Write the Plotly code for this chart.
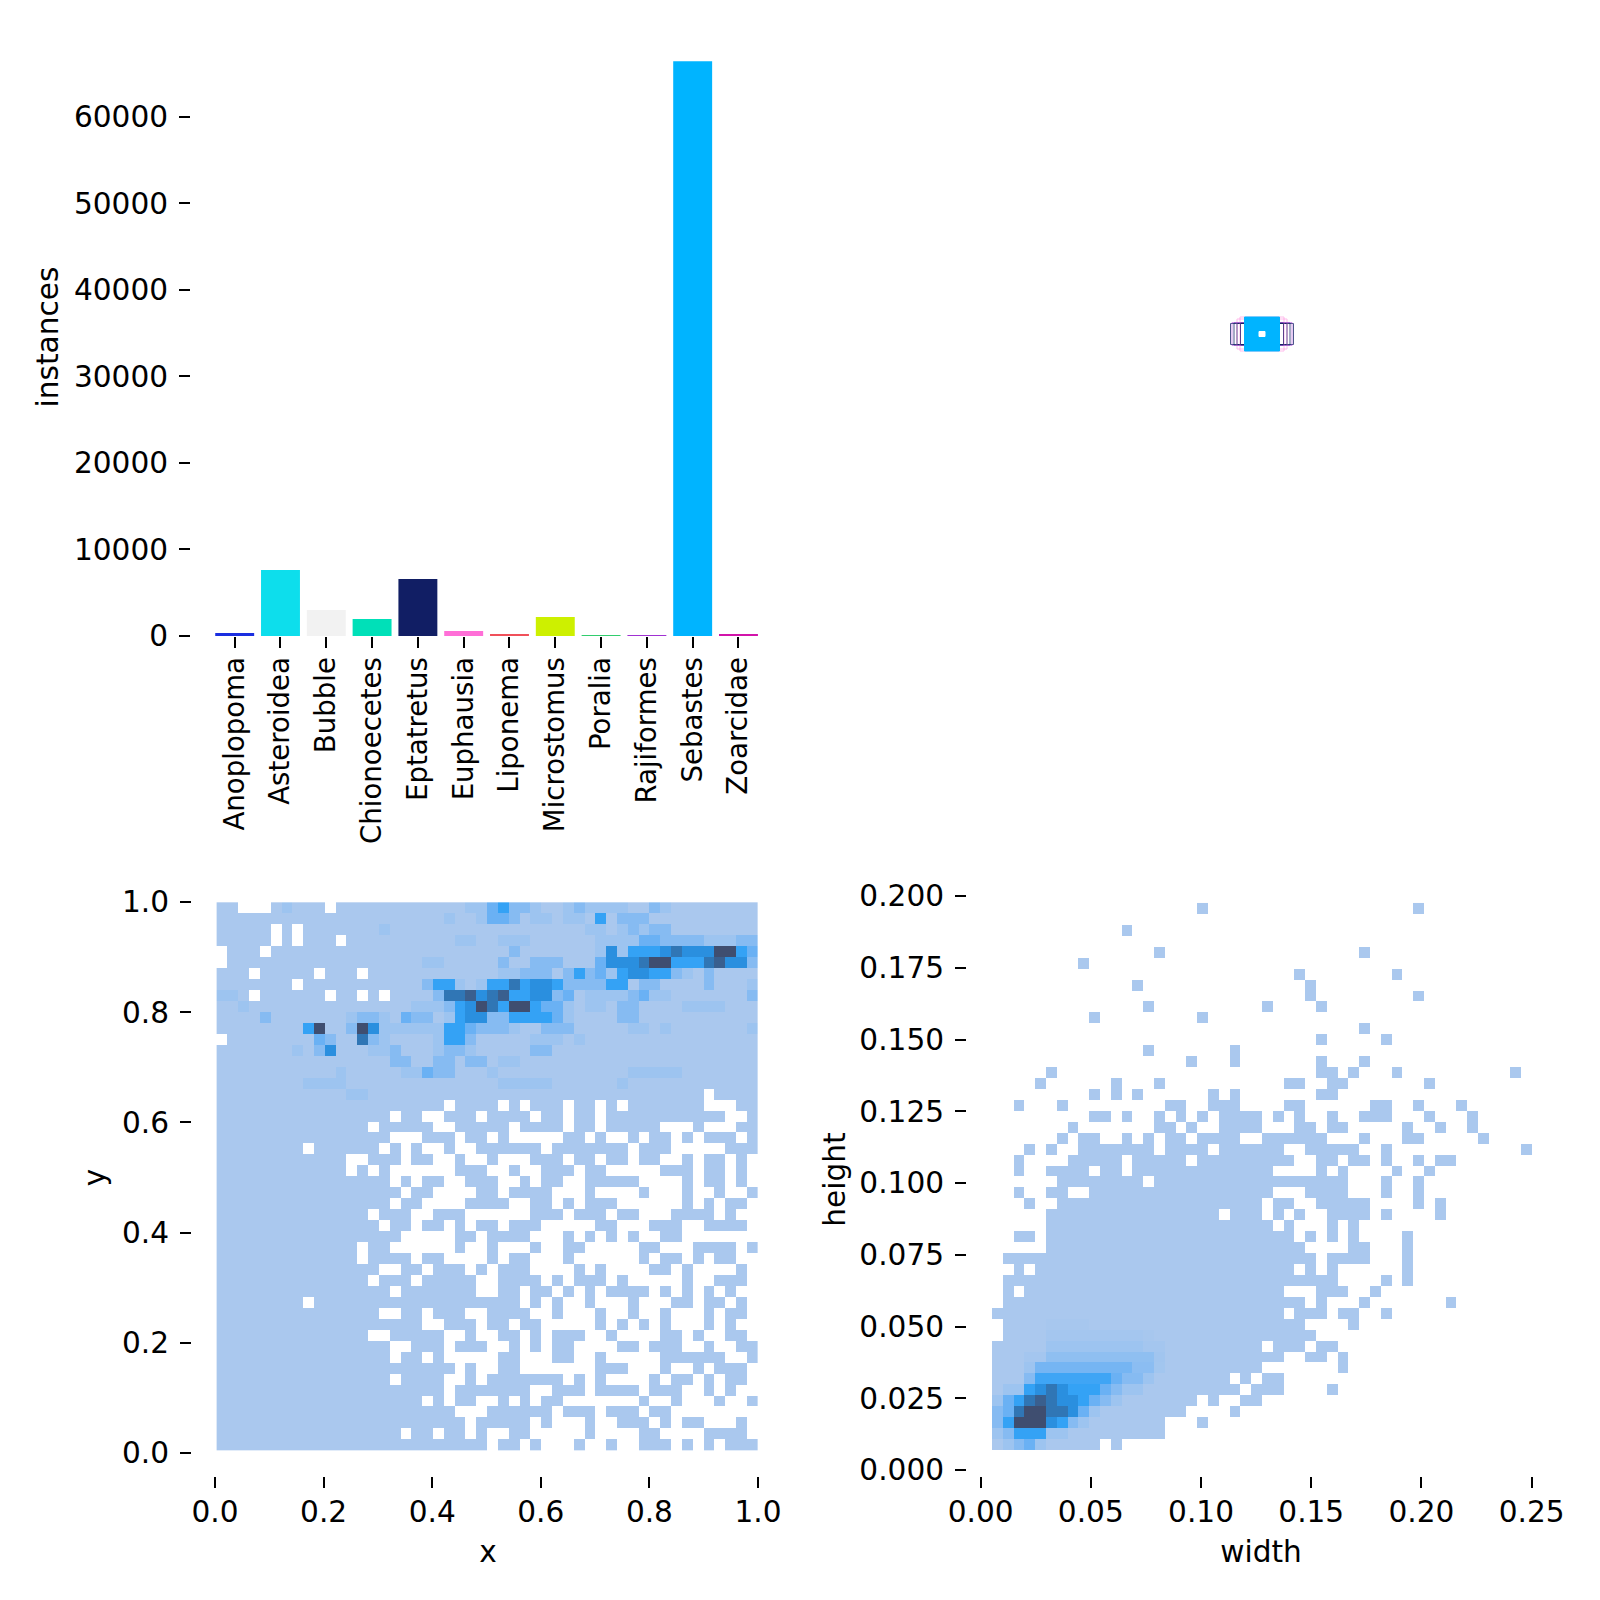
import numpy as np
import plotly.graph_objects as go

# ---------- bar chart data ----------
classes = ["Anoplopoma", "Asteroidea", "Bubble", "Chionoecetes", "Eptatretus", "Euphausia",
           "Liponema", "Microstomus", "Poralia", "Rajiformes", "Sebastes", "Zoarcidae"]
instances = [350, 7620, 3000, 1960, 6580, 580, 230, 2190, 80, 60, 66380, 200]
class_colors = ["#1a2ee0", "#0ddeec", "#f2f2f2", "#00e0b8", "#111e64", "#ff6fd7",
                "#f0505a", "#cdf000", "#32cd6e", "#a032d2", "#00b4ff", "#d214aa"]

# ---------- overlaid boxes (pixel sized, centred) ----------
box_class = ["Eptatretus", "Eptatretus", "Eptatretus", "Eptatretus", "Euphausia", "Euphausia", "Rajiformes",
             "Sebastes", "Bubble"]
box_w = [63, 56, 50, 43, 50, 44, 60, 35, 6]
box_h = [21, 22, 21, 22, 30, 34, 23, 34, 5]
box_filled = [False, False, False, False, False, False, False, True, True]
box_alpha = [0.75, 0.75, 0.8, 0.9, 0.45, 0.45, 0.5, 1, 1]

# ---------- 2-D histograms: one spec per row from the top; tokens col or col-col[:level] ----------
# x / y : every cell level 1 unless listed; a bare token means an empty cell
xy_rows = [
"2-4 10 6:2 23-24:2 25:4 26:5 27-28:3 29:2 32:2 33:3 34-37:2 40:3 41:2",
"21:2 24:2 25-26:4 27:3 29-30:2 32-33:2 35:5 37-39:3",
"5 7 15:2 34-35:2 37:2 38:3 39:2 40-41:3",
"5 7 11 22-23:2 26-28:2 35-38:2 39-40:4 41-44:3 45-47:2 48-49:3",
"0 4 27:3 35:2 36:6 37:2 38-40:5 41:6 42:7 43-45:6 46-47:9 48:5 49:4",
"0 19-20:2 26:3 29-31:3 35:4 36-38:6 39:7 40-41:9 42-44:5 45:7 46:8 47-48:6 49:3",
"3 9 13 26-27:2 28-30:3 32:3 33:5 34:3 35:4 36:2 37:5 38-39:6 40-41:5 42:3 43:2 45:3",
"7 19:3 20-21:5 22:2 24:2 25-26:5 27:7 28:5 29-30:6 31:5 32-35:3 36-37:5 39-40:3 45:3 49:2",
"3 10 13 15 0-1:2 20:3 21-22:7 23:8 24:6 25:7 26:8 27-28:5 29-30:6 31:3 32:4 34-37:2 38:3 39:4 40-41:2 49:3",
"2:2 18-20:2 21:3 22:5 23:6 24:9 25:7 26:5 27-28:9 29:5 30-31:4 32:2 34-35:2 37-38:3 43-46:2",
"4:3 12:2 13-14:3 15:2 17:4 18-19:3 21:2 22:5 23-24:6 25-26:3 27-30:5 31:4 32:2 37-38:3",
"8:5 9:9 12:3 13:9 14:6 15-20:2 21-22:5 23:4 24-26:3 27:2 30-32:3 38-39:2 41:2 49:2",
"0 9:4 10:3 13:7 14:3 15:2 20:2 21-22:5 23:3 29-31:2 33:2",
"7:2 9:3 10:6 14-15:2 16:3 20:2 21-22:3 23:2 29-30:3",
"16-17:3 20-21:3 23-24:3 26-27:2",
"11:2 17-18:2 19:4 20-21:3 25:2 38-42:2",
"8-11:2 26-30:2 37:2",
"12-13:2 45",
"21 26 28 32 35 37 45-47",
"16 19-20 24 29 32 35 47-48",
"14 20-21 27 32 35 41-43 45-47",
"16-18 22 25 27-31 34 36-37 39 42 44 48",
"8 15 17 19-20 22-23 30 38 42-46",
"12-13 17 20-21 23-24 26-28 32 35 38 41-42 44 47 49",
"12 14 16-21 25-26 28-29 33 36-40 44 47 49",
"16 18 21-22 26-27 29 32-33 39-42 44 47 49",
"17 20-23 26 31-33 35-38 40-42 44-45 47-48",
"16 19-22 27-28 31 33 37-42 44 46 49",
"14 18-19 23-28 32 36 39-41 46 48-49",
"15 18 21 23 26 30-34 37-39 43-44 49",
"17-21 24 29-31 33 35 37 39-40 43-49",
"13 16-21 23-24 26-28 30-31 34-38 41-43 48",
"13 18 21-24 26 29-31 33-38 40 43 45 48-49",
"15-16 19 23 25 29-32 34 36-39 42 44-47 49",
"14 18 24-25 30 32 36 38-42 44-45 49",
"16 24-25 28 31 33 35 40 42 44 46 48-49",
"8 28 30 32-33 35-37 39-41 44 47 49",
"15-16 19 23-24 29-30 32-34 36-37 39-40 42-44 46 49",
"19-20 24 27 30-34 36 38 40 42-44 46 48-49",
"14-15 21-22 24-25 28 30 34-35 37-40 43 45-46 49",
"16-17 21 25-26 28 30 33-36 39 43-44 46-47",
"16 19 21-25 28-30 33-34 36-40 47-48",
"22 24-25 28-34 38-40 42-43 45 49",
"16 21-22 24 32 34 36-39 41 44 46 49",
"21 29-30 34 39 43-44 46 48-49",
"19 21 24-25 27 29 32-38 40-41 43-45 47-48",
"22-24 31 35 39 42-49",
"23 29 31-33 35-36 40 42 45-47 49",
"17 20 23 25-26 29-33 35-38 41-44 49",
"25 28 30-32 34-35 37-38 42 44 46",
]
# width / height : every cell empty unless listed; a bare token means level 1
wh_rows = [
"19 39", "", "12", "", "15 34", "8", "28 37", "13 29", "29 39", "14 25 30",
"9 19", "34", "30 36", "14 22", "18 22 30 34", "5 30-31 33 37 48",
"4 11 15 27-28 31-32 40", "9 11 13 20 22 30-31",
"2 6 16-17 20-22 27-28 35-36 39 43",
"9-10 12 15 17 19 21-24 26 28 31 34-36 40 44",
"7 15-16 18 21-24 28-29 31-32 38 41 44",
"6 8-9 12 14 16-17 19-22 25-30 34 38-39 45",
"3 5 8-14 16-19 21-26 29-33 36 49",
"2 7-11 13-17 19-27 30-31 33-34 36 39 41-42",
"2 5-8 10-11 13-25 30 32 37 40",
"6-13 15-32 36 39",
"2 5-6 9-25 29-32 36 39",
"3 6-24 26-27 30-34 39 41",
"5-20 22-24 26 28 31-34 36 41",
"5-25 27 31 33",
"2-3 5-27 29 31 33 38",
"5-28 33-34 38",
"1-29 31-34 38",
"2 4-27 29 31 38",
"1-31 36 38",
"1 3-26 30-32 35",
"1-28 30 34 42",
"0-26 28-30 32-33 36",
"1-28 33 5-8:1.2",
"1-29 5-13:1.5 14:1.2",
"0-24 26-28 30-31 5-13:2 14-15:1.5",
"0-26 29-30 32 3-4:1.5 5-14:2.6 15:1.7",
"0-24 32 3:2 4-12:3.6 13-14:2.8 15:1.6",
"0-21 23 25-26 3:3 4-10:4.8 11:4 12-13:3 14:2",
"0-22 24-26 31 1-2:2 3:5 4:6 5:7 6:6 7-9:5 10:4 11:3 12-13:2",
"0-18 20 23-24 0:2 1:4 2:5 3:7 4:8 5:7 6-7:6 8:5 9:4 10:3 11:2",
"0-17 22 0:3 1:4 2:7 3-4:9 5-6:7 7:6 8:4 9:2",
"0-15 19 0:3 1:5 2-4:9 5:6 6:5 7:3 8:2",
"0-15 0:2 1:3 2-4:5 5-6:2",
"0-9 11 1:2 2:3 3:4 4:2",
]
heat_levels = [1, 2, 3, 4, 5, 6, 7, 8, 9]
heat_colors = ["#aac8ee", "#9dc4f0", "#86bbf2", "#6ab1f4", "#34a2f5", "#2a8fdf", "#3076b5", "#3a5f8e", "#3f4e70"]

xy_ticks = [0.0, 0.2, 0.4, 0.6, 0.8, 1.0]
w_ticks = [0.00, 0.05, 0.10, 0.15, 0.20, 0.25]
h_ticks = [0.000, 0.025, 0.050, 0.075, 0.100, 0.125, 0.150, 0.175, 0.200]
count_ticks = [0, 10000, 20000, 30000, 40000, 50000, 60000]


def decode(rows, default, bare):
    grid = np.full((50, 50), float(default))
    for r, spec in enumerate(rows):
        for tok in spec.split():
            span, _, lev = tok.partition(":")
            a, _, b = span.partition("-")
            grid[r, int(a):int(b or a) + 1] = float(lev) if lev else bare
    grid[grid == 0] = np.nan
    return grid[::-1]


S = 1600.0
OFF = 8  # the page body adds this margin
def px_x(a):
    return (a - OFF) / S
def px_y(a):
    return 1 - (a - OFF) / S
def dom_x(a, b):
    return [px_x(a), px_x(b)]
def dom_y(top, bottom):
    return [px_y(bottom), px_y(top)]

fig = go.Figure()

# bars
fig.add_trace(go.Bar(x=classes, y=instances, marker=dict(color=class_colors, line_width=0),
                     xaxis="x", yaxis="y", showlegend=False))

# boxes
color_of = dict(zip(classes, class_colors))
CX, CY = 442.0, 334.0
for name, w, h, filled, alpha in zip(box_class, box_w, box_h, box_filled, box_alpha):
    col = "#ffffff" if name == "Bubble" else color_of[name]
    fig.add_trace(go.Scatter(
        x=[CX - w / 2, CX + w / 2, CX + w / 2, CX - w / 2, CX - w / 2],
        y=[CY - h / 2, CY - h / 2, CY + h / 2, CY + h / 2, CY - h / 2],
        mode="lines", line=dict(color=col, width=1), opacity=alpha,
        fill="toself" if filled else "none", fillcolor=col if filled else None,
        xaxis="x2", yaxis="y2", showlegend=False))

scale = [[(v - 1) / 8, c] for v, c in zip(heat_levels, heat_colors)]

# x / y histogram
gx0, gdx = 0.003, 0.01993
gy0, gdy = 0.0054, 0.01988
fig.add_trace(go.Heatmap(z=decode(xy_rows, 1, 0), x0=gx0 + gdx / 2, dx=gdx, y0=gy0 + gdy / 2, dy=gdy,
                         colorscale=scale, zmin=1, zmax=9, showscale=False, xaxis="x3", yaxis="y3"))
# width / height histogram
hx0, hdx = 0.00517, 0.0049
hy0, hdy = 0.00697, 0.003812
fig.add_trace(go.Heatmap(z=decode(wh_rows, 0, 1), x0=hx0 + hdx / 2, dx=hdx, y0=hy0 + hdy / 2, dy=hdy,
                         colorscale=scale, zmin=1, zmax=9, showscale=False, xaxis="x4", yaxis="y4"))

FS = 29.6
tick = dict(ticks="outside", ticklen=11, tickwidth=2, tickcolor="black", showgrid=False, automargin=False,
            zeroline=False, showline=False)
tf = dict(size=FS, color="black")
title = lambda text, off: dict(text=text, font=dict(size=FS, color="black"), standoff=off)

fig.update_layout(
    width=1600, height=1600, margin=dict(l=0, r=0, t=0, b=0), autosize=False,
    paper_bgcolor="white", plot_bgcolor="white", bargap=0.15,
    font=dict(family="DejaVu Sans", color="black"),
    xaxis=dict(domain=dom_x(191, 760), range=[-0.954, 11.47], type="category", tickangle=-90,
               anchor="y", tickfont=dict(size=27.6, color="black"), ticklabelstandoff=-2, **tick),
    yaxis=dict(domain=dom_y(38, 636), range=[0, 69078], tickvals=count_ticks, tickformat="d", anchor="x",
               title=title("instances", 6), tickfont=tf, ticklabelstandoff=5, **tick),
    xaxis2=dict(domain=dom_x(820, 1540), range=[0, 720], visible=False, anchor="y2"),
    yaxis2=dict(domain=dom_y(8, 728), range=[728, 8], visible=False, anchor="x2"),
    xaxis3=dict(domain=dom_x(215, 761), range=[0, 1.0055], tickvals=xy_ticks, tickformat=".1f",
                anchor="free", position=px_y(1476), title=title("x", 13), tickfont=tf, ticklabelstandoff=-2, **tick),
    yaxis3=dict(domain=dom_y(902, 1453), range=[0, 1.0], tickvals=xy_ticks, tickformat=".1f",
                anchor="free", position=px_x(191), title=title("y", 6), tickfont=tf, ticklabelstandoff=5, **tick),
    xaxis4=dict(domain=dom_x(980.6, 1541.6), range=[0, 0.2545], tickvals=w_ticks, tickformat=".2f",
                anchor="free", position=px_y(1476), title=title("width", 13), tickfont=tf, ticklabelstandoff=-2, **tick),
    yaxis4=dict(domain=dom_y(889, 1470), range=[0, 0.20244], tickvals=h_ticks, tickformat=".3f",
                anchor="free", position=px_x(966), title=title("height", 3), tickfont=tf, ticklabelstandoff=5, **tick),
)
fig.write_html("out.html")
